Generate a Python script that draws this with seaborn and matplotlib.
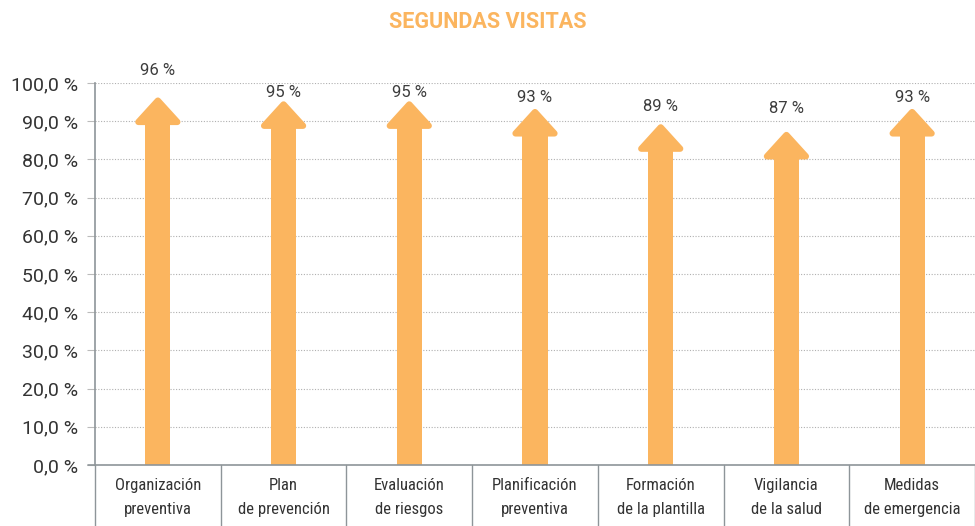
import matplotlib
matplotlib.use("Agg")
import matplotlib.pyplot as plt
import matplotlib.transforms as mtransforms
from matplotlib.patches import Polygon
from matplotlib.lines import Line2D
from matplotlib import font_manager
import seaborn as sns
import pandas as pd

# ---- data ----
categories = ["Organización\npreventiva", "Plan\nde prevención", "Evaluación\nde riesgos",
              "Planificación\npreventiva", "Formación\nde la plantilla", "Vigilancia\nde la salud",
              "Medidas\nde emergencia"]
values = [96, 95, 95, 93, 89, 87, 93]
value_labels = ["96 %", "95 %", "95 %", "93 %", "89 %", "87 %", "93 %"]
yticks = [0, 10, 20, 30, 40, 50, 60, 70, 80, 90, 100]
ytick_labels = ["0,0 %", "10,0 %", "20,0 %", "30,0 %", "40,0 %", "50,0 %", "60,0 %",
                "70,0 %", "80,0 %", "90,0 %", "100,0 %"]
title = "SEGUNDAS VISITAS"

# ---- layout / style ----
label_pos = [103.2, 97.5, 97.5, 96.2, 93.8, 93.2, 96.3]
ORANGE = "#FBB55F"
HEAD_LEN = 6.2
HEAD_HALF = 0.155
SHAFT_W = 0.2

sns.set_theme(style="white")
avail = {f.name for f in font_manager.fontManager.ttflist}
narrow = None
for cand in ["Roboto Condensed", "Liberation Sans Narrow", "Open Sans Condensed",
             "Noto Sans Condensed", "DejaVu Sans Condensed"]:
    if cand in avail:
        narrow = cand
        break
plt.rcParams["font.family"] = ["Roboto", "DejaVu Sans"]

fig = plt.figure(figsize=(9.75, 5.26), dpi=100)
ax = fig.add_axes([95 / 975, 61 / 526, 880 / 975, 382 / 526])

df = pd.DataFrame({"cat": categories, "shaft": [v - HEAD_LEN + 0.5 for v in values]})
sns.barplot(data=df, x="cat", y="shaft", color=ORANGE, saturation=1, width=SHAFT_W,
            linewidth=0, ax=ax, zorder=3)

for i, v in enumerate(values):
    head = Polygon([(i - HEAD_HALF, v - HEAD_LEN), (i, v - 0.6), (i + HEAD_HALF, v - HEAD_LEN)],
                   closed=True, facecolor=ORANGE, edgecolor=ORANGE, linewidth=4.5,
                   joinstyle="round", zorder=3)
    ax.add_patch(head)
    ax.text(i, label_pos[i], value_labels[i], ha="center", va="center",
            fontsize=12, color="#3C3C3C", zorder=4)

ax.set_xlim(-0.5, 6.5)
ax.set_ylim(0, 100)
ax.set_yticks(yticks)
ax.set_yticklabels(ytick_labels, fontsize=14, color="#333333")
ax.set_xticks(range(len(categories)))
ax.set_xticklabels([])
ax.set_xlabel("")
ax.set_ylabel("")
ax.tick_params(axis="y", length=6, width=0.8, color="#BBBBBB", pad=6, left=True)
ax.tick_params(axis="x", length=0)
ax.yaxis.grid(True, linestyle=(0, (1, 1.5)), color="#B0B0B0", linewidth=0.8, zorder=0)
ax.set_axisbelow(True)

for s in ["top", "right"]:
    ax.spines[s].set_visible(False)
ax.spines["left"].set_color("#8E9599")
ax.spines["left"].set_linewidth(1.2)
ax.spines["bottom"].set_visible(False)

ax.add_line(Line2D([-0.008, 1.01], [0, 0], transform=ax.transAxes, color="#8E9599",
                   linewidth=1.2, clip_on=False, zorder=5))
trans = mtransforms.blended_transform_factory(ax.transData, fig.transFigure)
for b in [i - 0.5 for i in range(len(categories) + 1)]:
    ax.add_line(Line2D([b, b], [0, 61 / 526], transform=trans, color="#8E9599",
                       linewidth=1, clip_on=False))

xfam = [narrow, "Roboto", "DejaVu Sans"] if narrow else ["Roboto", "DejaVu Sans"]
xsize = 12 if narrow else 11
for i, c in enumerate(categories):
    ax.text(i, (526 - 478) / 526, c, transform=trans, ha="center", va="top",
            fontsize=xsize, color="#333333", family=xfam, linespacing=1.75)

fig.text(0.5, 1 - 22 / 526, title, ha="center", va="center", fontsize=15.5,
         fontweight="bold", color=ORANGE)

fig.savefig("out.png", dpi=100)
